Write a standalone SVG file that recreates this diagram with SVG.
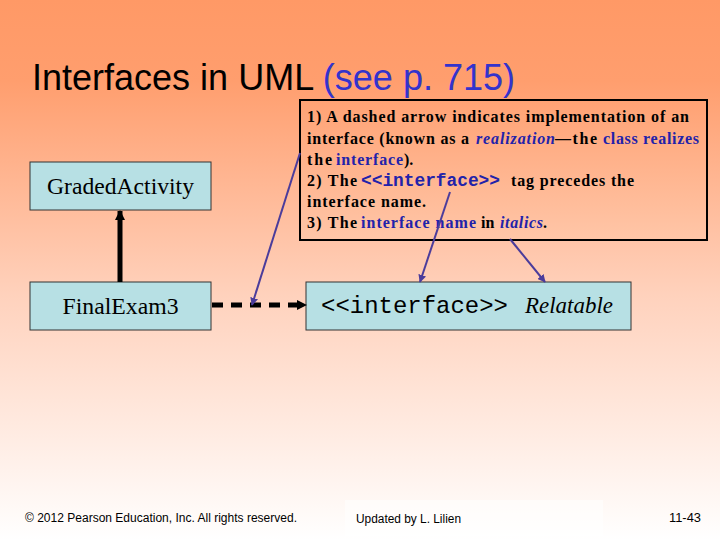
<svg xmlns="http://www.w3.org/2000/svg" width="720" height="540" viewBox="0 0 720 540">
<defs>
<linearGradient id="bg" x1="0" y1="0" x2="0" y2="1">
<stop offset="0" stop-color="#FF9966"/>
<stop offset="0.15" stop-color="#FF9E6E"/>
<stop offset="0.55" stop-color="#FFD2BD"/>
<stop offset="1" stop-color="#FFFFFF"/>
</linearGradient>
<linearGradient id="cb" x1="0" y1="0" x2="0" y2="1">
<stop offset="0" stop-color="#FFA274"/>
<stop offset="1" stop-color="#FFC6A8"/>
</linearGradient>
<marker id="ptr" viewBox="0 0 10 10" refX="9" refY="5" markerWidth="4" markerHeight="4" orient="auto" markerUnits="strokeWidth">
<path d="M0,0 L10,5 L0,10 z" fill="#4B3C9B"/>
</marker>
<marker id="blk" viewBox="0 0 10 10" refX="9" refY="5" markerWidth="2" markerHeight="2" orient="auto" markerUnits="strokeWidth">
<path d="M0,0 L10,5 L0,10 z" fill="#000"/>
</marker>
</defs>
<style>
.node{fill:#B7E0E4;stroke:#333;stroke-width:1}
.lbl{font-family:"Liberation Serif","Times New Roman",serif;font-size:23px;fill:#000}
.mono{font-family:"Liberation Mono","Courier New",monospace}
.note{font-family:"Liberation Serif","Times New Roman",serif;font-size:16px;font-weight:bold;fill:#000}
.b{fill:#2222AA}
.ptr{stroke:#4B3C9B;stroke-width:2;fill:none;marker-end:url(#ptr)}
.foot{font-family:"Liberation Sans",Arial,sans-serif;font-size:12px;fill:#000}
</style>
<rect width="720" height="540" fill="url(#bg)"/>
<rect x="345" y="500" width="258" height="36" fill="#FFFFFF" opacity="0.5"/>

<text x="32" y="90" font-family="'Liberation Sans',Arial,sans-serif" font-size="36" textLength="483" lengthAdjust="spacingAndGlyphs">Interfaces in UML <tspan fill="#3333CC">(see p. 715)</tspan></text>

<g id="node-graded">
<rect class="node" x="30" y="162" width="181" height="48"/>
<text class="lbl" x="120.5" y="194" text-anchor="middle" textLength="147" lengthAdjust="spacingAndGlyphs">GradedActivity</text>
</g>
<g id="node-final">
<rect class="node" x="30" y="282" width="181" height="48"/>
<text class="lbl" x="120.5" y="314" text-anchor="middle" textLength="116" lengthAdjust="spacingAndGlyphs">FinalExam3</text>
</g>
<g id="node-relatable">
<rect class="node" x="306" y="282" width="325" height="48"/>
<text class="lbl" x="321" y="313"><tspan class="mono" font-size="24" textLength="187" lengthAdjust="spacingAndGlyphs">&lt;&lt;interface&gt;&gt;</tspan><tspan x="525" font-style="italic" textLength="88" lengthAdjust="spacingAndGlyphs">Relatable</tspan></text>
</g>

<g id="note">
<rect x="300" y="100" width="407" height="140" fill="url(#cb)" stroke="#000" stroke-width="2"/>
<text class="note" x="307" y="122" textLength="382" lengthAdjust="spacing">1) A dashed arrow indicates implementation of an</text>
<text class="note" y="144"><tspan x="307" textLength="162" lengthAdjust="spacing">interface (known as a</tspan><tspan x="476" class="b" font-style="italic" textLength="79" lengthAdjust="spacing">realization</tspan><tspan x="555" textLength="42" lengthAdjust="spacing">—the</tspan><tspan x="603" class="b" textLength="96" lengthAdjust="spacing">class realizes</tspan></text>
<text class="note" y="165"><tspan x="307" textLength="25" lengthAdjust="spacing">the</tspan><tspan x="336" class="b" textLength="67" lengthAdjust="spacing">interface</tspan><tspan x="404">).</tspan></text>
<text class="note" y="186"><tspan x="307" textLength="50" lengthAdjust="spacing">2) The</tspan><tspan x="361" class="b mono" font-size="18" textLength="139" lengthAdjust="spacingAndGlyphs">&lt;&lt;interface&gt;&gt;</tspan><tspan x="511" textLength="123" lengthAdjust="spacing">tag precedes the</tspan></text>
<text class="note" x="307" y="207" textLength="119" lengthAdjust="spacing">interface name.</text>
<text class="note" y="228"><tspan x="307" textLength="50" lengthAdjust="spacing">3) The</tspan><tspan x="361" class="b" textLength="115" lengthAdjust="spacing">interface name</tspan><tspan x="481">in</tspan><tspan x="500" class="b" font-style="italic" textLength="43" lengthAdjust="spacing">italics</tspan><tspan x="543">.</tspan></text>
</g>

<g id="connectors">
<line x1="120" y1="282" x2="120" y2="211" stroke="#000" stroke-width="5" marker-end="url(#blk)"/>
<line x1="212" y1="305" x2="306" y2="305" stroke="#000" stroke-width="5" stroke-dasharray="11 8" marker-end="url(#blk)"/>
<line class="ptr" x1="300" y1="153" x2="252" y2="305"/>
<line class="ptr" x1="450" y1="192" x2="420" y2="282"/>
<line class="ptr" x1="510" y1="239" x2="545" y2="282"/>
</g>

<g id="footer">
<text class="foot" x="25" y="522" textLength="272" lengthAdjust="spacingAndGlyphs">© 2012 Pearson Education, Inc. All rights reserved.</text>
<text class="foot" x="356" y="523" textLength="105" lengthAdjust="spacingAndGlyphs">Updated by L. Lilien</text>
<text class="foot" x="669" y="522" textLength="32" lengthAdjust="spacingAndGlyphs">11-43</text>
</g>
</svg>
